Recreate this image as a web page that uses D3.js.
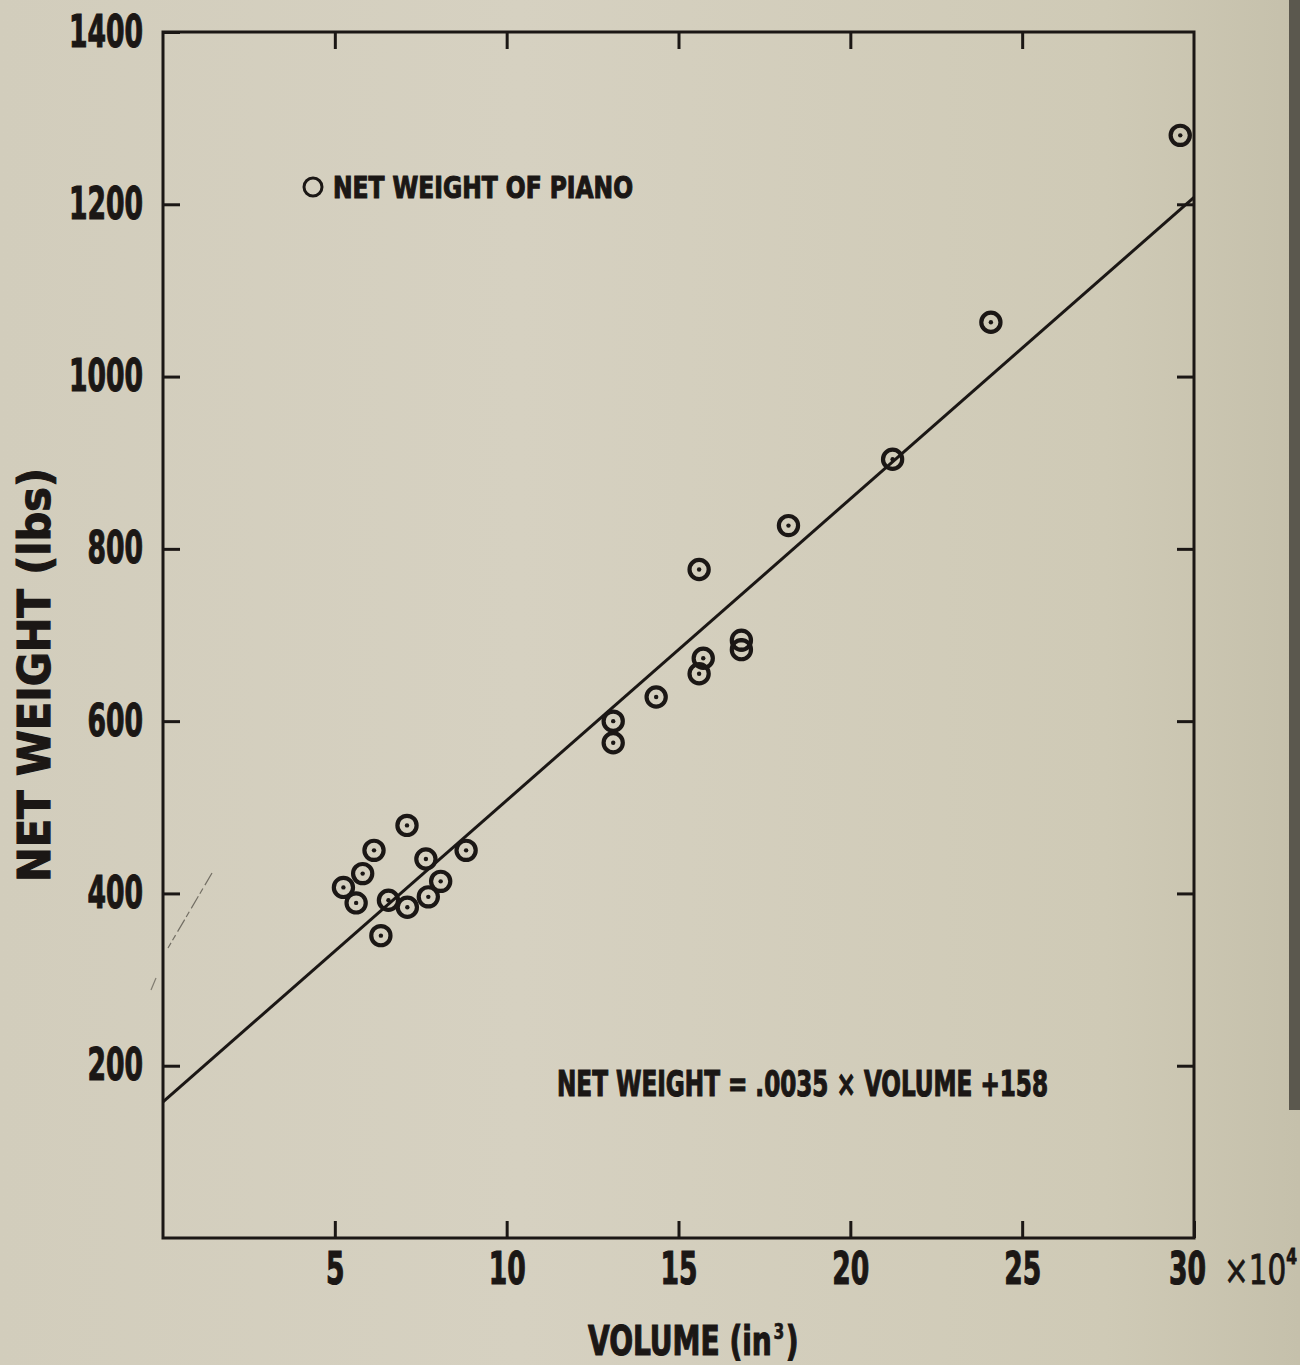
<!DOCTYPE html>
<html>
<head>
<meta charset="utf-8">
<script src="https://cdn.jsdelivr.net/npm/d3@7/dist/d3.min.js"></script>
<style>
  html, body { margin: 0; padding: 0; background: #d4cfbf; }
  svg { display: block; }
  text { font-family: "Liberation Sans Narrow", "DejaVu Sans Condensed", "Liberation Sans", sans-serif; font-weight: bold; fill: #1b1715; stroke: #1b1715; stroke-width: 1.1px; }
</style>
</head>
<body>
<svg id="chart" width="1300" height="1365"></svg>
<script>
// Piano volume (×10^4 in³) against net weight (lbs)
const volume = [5.25, 5.62, 5.81, 6.14, 6.34, 6.56, 7.10, 7.11, 7.65, 7.72, 8.08, 8.82,
                13.10, 13.10, 14.35, 15.60, 15.72, 15.60, 16.83, 16.83, 18.20, 21.23, 24.09, 29.60];
const netWeight = [407, 389, 423, 450, 351, 392, 479, 384, 440, 396, 414, 450,
                   600, 575, 628, 776, 673, 655, 694, 683, 827, 904, 1063, 1280];

// Least-squares fit printed on the chart: NET WEIGHT = .0035 × VOLUME + 158
const fitSlope = 0.0035;   // lbs per in³
const fitIntercept = 158;  // lbs
const volumeUnit = 1e4;    // axis is in units of 10^4 in³

const xTicks = [5, 10, 15, 20, 25, 30];
const yTicks = [200, 400, 600, 800, 1000, 1200, 1400];

const ink = "#1b1715";
const svg = d3.select("#chart");

// paper tone, a touch darker toward the right edge
const defs = svg.append("defs");
const grad = defs.append("linearGradient").attr("id", "paper").attr("x1", 0).attr("x2", 1).attr("y1", 0).attr("y2", 0);
grad.append("stop").attr("offset", 0).attr("stop-color", "#d2cdbc");
grad.append("stop").attr("offset", 0.4).attr("stop-color", "#d6d1c1");
grad.append("stop").attr("offset", 0.85).attr("stop-color", "#cfcab6");
grad.append("stop").attr("offset", 1).attr("stop-color", "#c5c0ab");
svg.append("rect").attr("width", 1300).attr("height", 1365).attr("fill", "url(#paper)");
// dark binding edge on the right
svg.append("rect").attr("x", 1289).attr("y", 0).attr("width", 11).attr("height", 1110)
  .attr("fill", "#4f4c44").attr("opacity", 0.9);

const plotL = 163, plotR = 1194, plotT = 32, plotB = 1238;
const x = d3.scaleLinear().domain([0, 30]).range([plotL, plotR]);
const y = d3.scaleLinear().domain([0, 1400]).range([plotB, plotT]);

const tickLen = 17;
const labelWidth = s => String(s).length * 18.5;

// frame
svg.append("rect")
  .attr("x", plotL).attr("y", plotT).attr("width", plotR - plotL).attr("height", plotB - plotT)
  .attr("fill", "none").attr("stroke", ink).attr("stroke-width", 3);

// left axis with labels
const gy = svg.append("g").attr("transform", `translate(${plotL},0)`)
  .call(d3.axisLeft(y).tickValues(yTicks).tickSize(-tickLen).tickPadding(20).tickFormat(d3.format("d")));
// bottom axis with labels
const gx = svg.append("g").attr("transform", `translate(0,${plotB})`)
  .call(d3.axisBottom(x).tickValues(xTicks).tickSize(-tickLen).tickPadding(15).tickFormat(d3.format("d")));
// right and top axes: inward ticks only
const gr = svg.append("g").attr("transform", `translate(${plotR},0)`)
  .call(d3.axisRight(y).tickValues(yTicks.slice(0, -1)).tickSize(-tickLen).tickFormat(""));
const gt = svg.append("g").attr("transform", `translate(0,${plotT})`)
  .call(d3.axisTop(x).tickValues(xTicks.slice(0, -1)).tickSize(-tickLen).tickFormat(""));

[gy, gx, gr, gt].forEach(g => {
  g.select(".domain").remove();
  g.selectAll(".tick line").attr("stroke", ink).attr("stroke-width", 3);
});
[gy, gx].forEach(g => {
  g.selectAll(".tick text")
    .attr("font-size", 44)
    .attr("font-family", null)
    .attr("fill", ink)
    .attr("textLength", d => labelWidth(d))
    .attr("lengthAdjust", "spacingAndGlyphs");
});
gx.selectAll(".tick text").filter(d => d === 30).attr("dx", -7);

// "×10⁴" multiplier next to the last x label, condensed horizontally
const mult = svg.append("text").attr("transform", "translate(1224,1284) scale(0.82,1)")
  .attr("font-size", 40).style("font-weight", "normal").style("stroke-width", "0.8px");
mult.append("tspan").text("×10");
mult.append("tspan").attr("dy", -20).attr("font-size", 21).style("font-weight", "bold").text("4");

// fitted line across the full volume range
const fit = v => fitSlope * v * volumeUnit + fitIntercept;
svg.append("line")
  .attr("x1", x(0)).attr("y1", y(fit(0)))
  .attr("x2", x(30)).attr("y2", y(fit(30)))
  .attr("stroke", ink).attr("stroke-width", 3);

// data points: ring with a centre dot
const pts = svg.append("g").selectAll("g").data(volume.map((v, i) => [v, netWeight[i]])).join("g")
  .attr("transform", d => `translate(${x(d[0])},${y(d[1])})`);
pts.append("circle").attr("r", 9.6).attr("fill", "none").attr("stroke", ink).attr("stroke-width", 4.2);
pts.append("circle").attr("r", 2.2).attr("fill", ink);

// legend
svg.append("circle").attr("cx", 313).attr("cy", 187).attr("r", 9)
  .attr("fill", "none").attr("stroke", ink).attr("stroke-width", 3);
svg.append("text").attr("x", 333).attr("y", 198).attr("font-size", 31)
  .attr("textLength", 300).attr("lengthAdjust", "spacingAndGlyphs")
  .text("NET WEIGHT OF PIANO");

// equation
svg.append("text").attr("x", 557).attr("y", 1096).attr("font-size", 35)
  .attr("textLength", 491).attr("lengthAdjust", "spacingAndGlyphs")
  .text("NET WEIGHT = .0035 × VOLUME +158");

// axis titles
const xt = svg.append("text").attr("transform", "translate(588,1355) scale(0.78,1)").attr("font-size", 40);
xt.append("tspan").text("VOLUME (in");
xt.append("tspan").attr("dx", 2).attr("dy", -16).attr("font-size", 22).style("stroke-width", "0.6px").text("3");
xt.append("tspan").attr("dx", 2).attr("dy", 16).text(")");

svg.append("text")
  .attr("transform", "translate(50,675) rotate(-90)")
  .attr("text-anchor", "middle").attr("font-size", 44)
  .attr("textLength", 414).attr("lengthAdjust", "spacingAndGlyphs")
  .text("NET WEIGHT (lbs)");

// faint pencil stroke near the left axis
svg.append("line").attr("x1", 212).attr("y1", 873).attr("x2", 168).attr("y2", 948)
  .attr("stroke", "#4a463e").attr("stroke-width", 1.2).attr("stroke-dasharray", "14 4 6 3").attr("opacity", 0.7);
svg.append("line").attr("x1", 156).attr("y1", 978).attr("x2", 151).attr("y2", 990)
  .attr("stroke", "#4a463e").attr("stroke-width", 1.2).attr("opacity", 0.6);
</script>
</body>
</html>
